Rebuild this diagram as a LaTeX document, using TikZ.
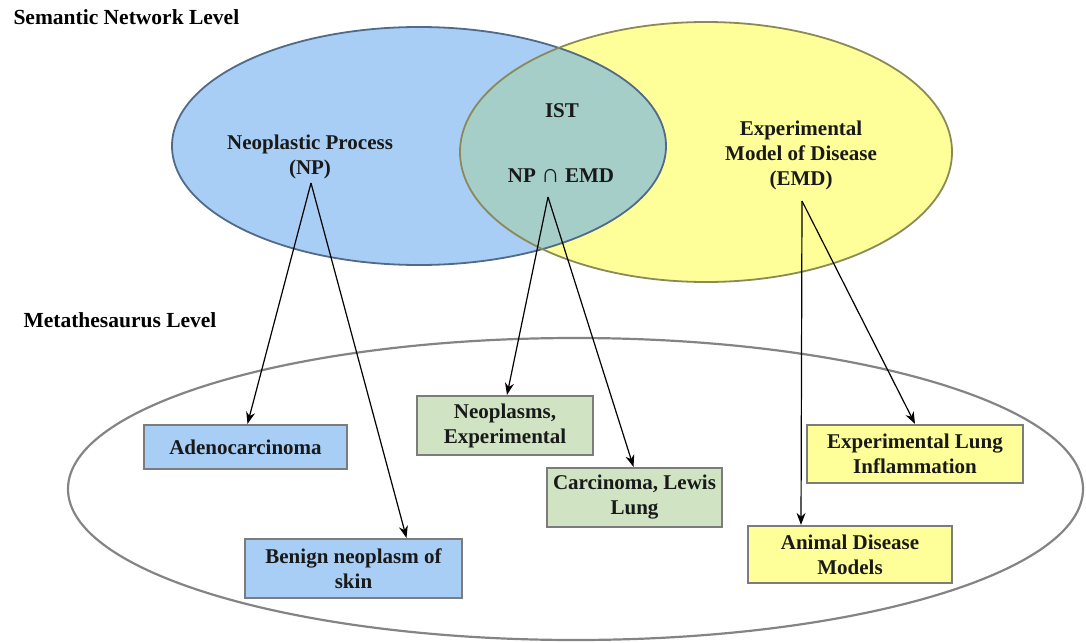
\documentclass[tikz,border=0pt]{standalone}
\usepackage{fontspec}
\setmainfont{Liberation Serif}
\usetikzlibrary{arrows.meta,calc}
\definecolor{npblue}{HTML}{A8CEF6}
\definecolor{npstroke}{HTML}{506A88}
\definecolor{emdyellow}{HTML}{FFFF99}
\definecolor{emdstroke}{HTML}{8A8A58}
\definecolor{isteal}{HTML}{A6CEC9}
\definecolor{boxgreen}{HTML}{D0E4C4}
\definecolor{boxline}{HTML}{7C7C7C}
\definecolor{outerline}{HTML}{848484}
\begin{document}
\begin{tikzpicture}[x=1pt,y=-1pt,
  lbl/.style={font=\fontsize{21}{25}\selectfont\bfseries, align=center, text=black!90},
  conc/.style={lbl, draw=boxline, line width=2.2pt, inner sep=0pt},
  bluebox/.style={conc, fill=npblue},
  greenbox/.style={conc, fill=boxgreen},
  yellowbox/.style={conc, fill=emdyellow},
  arr/.style={-{Stealth[length=12pt,width=9pt]}, line width=1.2pt, black},
  level/.style={font=\fontsize{21.5}{25}\selectfont\bfseries, anchor=base west}]
\useasboundingbox (0,0) rectangle (1086,642);
% outer metathesaurus ellipse
\draw[outerline, line width=2.2pt] (575.5,489) ellipse [x radius=507.5, y radius=151];
% semantic network ellipses
\fill[npblue] (419,146) ellipse [x radius=247, y radius=119];
\fill[emdyellow] (706,152) ellipse [x radius=246, y radius=130];
\begin{scope}
  \clip (419,146) ellipse [x radius=247, y radius=119];
  \fill[isteal] (706,152) ellipse [x radius=246, y radius=130];
\end{scope}
\draw[npstroke, line width=1.8pt] (419,146) ellipse [x radius=247, y radius=119];
\draw[emdstroke, line width=1.8pt] (706,152) ellipse [x radius=246, y radius=130];
% level labels
\node[level] (semlvl) at (10,25) {Semantic Network Level};
\node[level] (metalvl) at (20,327) {Metathesaurus Level};
% semantic type labels
\node[lbl] (np) at (310,157) {Neoplastic Process\\(NP)};
\node[lbl] (ist) at (562,111) {IST};
\node[lbl] (npemd) at (561,176) {NP {\fontsize{26}{25}\selectfont ∩} EMD};
\node[lbl] (emd) at (801,155) {Experimental\\Model of Disease\\(EMD)};
\coordinate (npA) at (311,183);
\coordinate (istA) at (548,197);
\coordinate (emdA) at (802,201);
% concept boxes
\node[bluebox, minimum width=203pt, minimum height=44pt] (adeno) at (245.5,447) {Adenocarcinoma};
\node[bluebox, minimum width=217pt, minimum height=59pt] (benign) at (353.5,568.5) {Benign neoplasm of\\skin};
\node[greenbox, minimum width=176pt, minimum height=59pt] (neoexp) at (505,425.5) {Neoplasms,\\Experimental};
\node[greenbox, minimum width=175pt, minimum height=59pt] (lewis) at (634.5,497.5) {Carcinoma, Lewis\\Lung};
\node[yellowbox, minimum width=216pt, minimum height=58pt] (explung) at (915,454) {Experimental Lung\\Inflammation};
\node[yellowbox, minimum width=204pt, minimum height=57pt] (animal) at (850,554.5) {Animal Disease\\Models};
% connectors
\draw[arr] (npA) -- ($(adeno.north)+(2,0)$);
\draw[arr] (npA) -- ($(benign.north)+(53,0)$);
\draw[arr] (istA) -- ($(neoexp.north)+(2,0)$);
\draw[arr] (istA) -- ($(lewis.north)+(-1,0)$);
\draw[arr] (emdA) -- (explung.north);
\draw[arr] (emdA) -- ($(animal.north)+(-49,0)$);
\end{tikzpicture}
\end{document}
